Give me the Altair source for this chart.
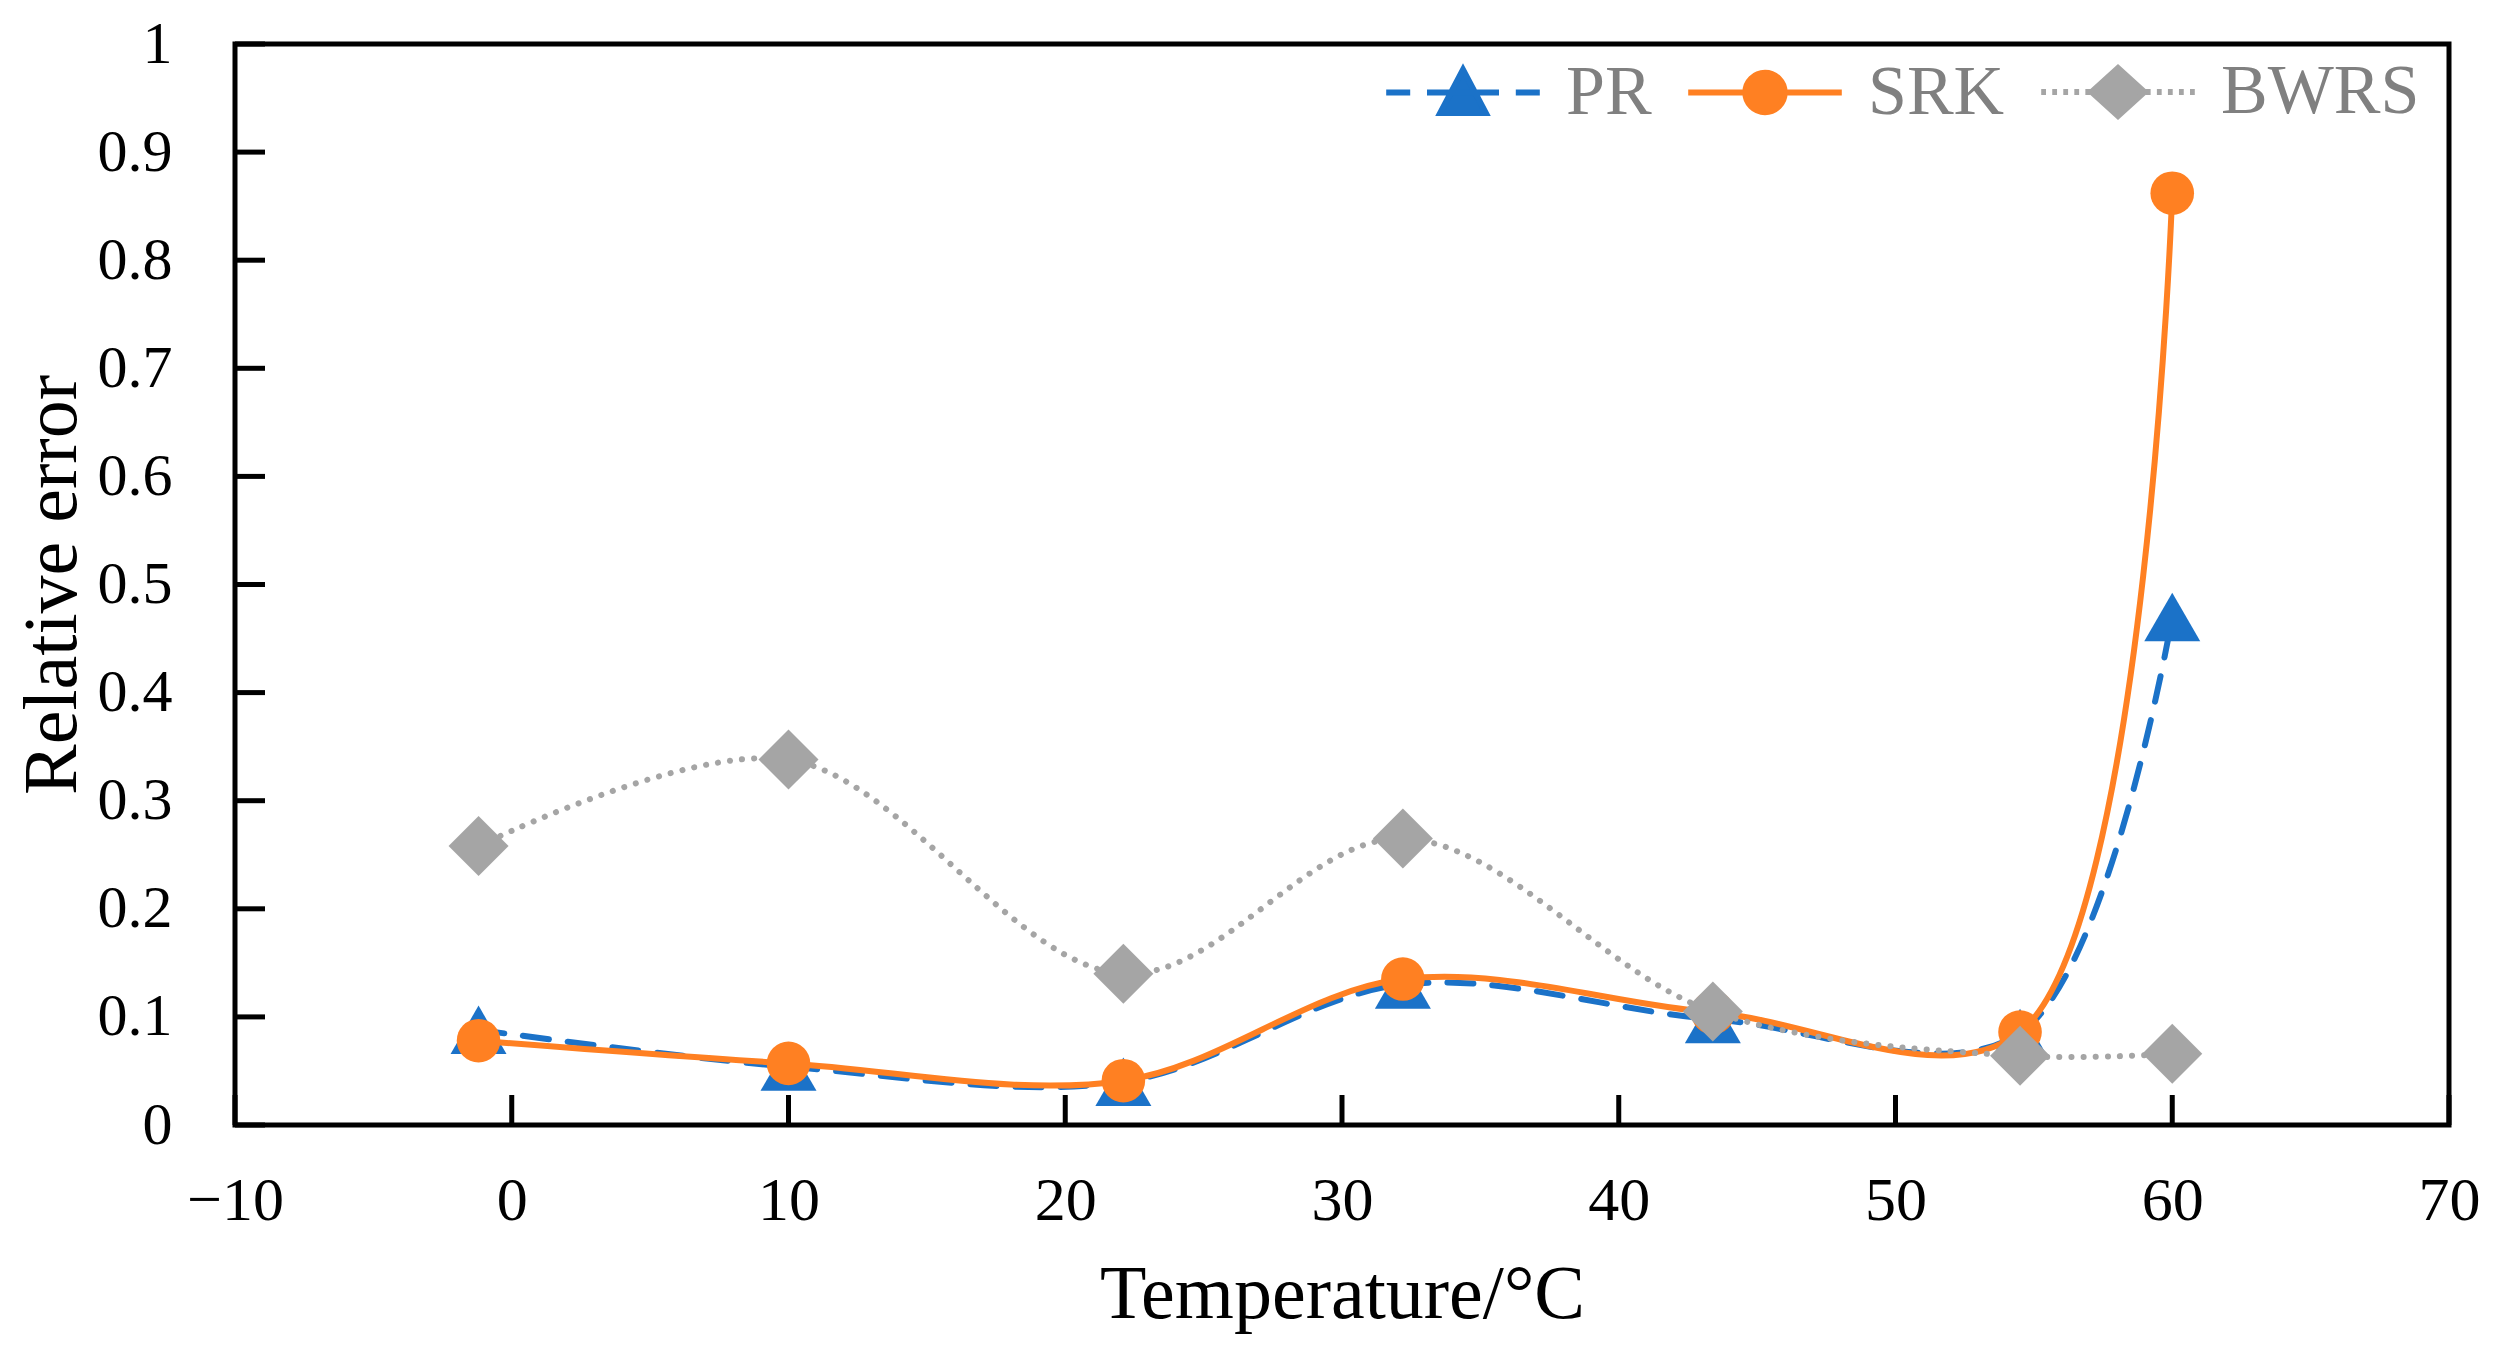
import altair as alt
import pandas as pd

# ---- data ----
temperature = [-1.2, 10.0, 22.1, 32.2, 43.4, 54.5, 60.0]
pr = [0.088, 0.054, 0.040, 0.130, 0.098, 0.085, 0.470]
srk = [0.078, 0.057, 0.041, 0.135, 0.104, 0.086, 0.862]
bwrs = [0.258, 0.338, 0.140, 0.265, 0.105, 0.064, 0.066]
series_names = ["PR", "SRK", "BWRS"]
colors = ["#1B72C8", "#FF8022", "#A5A5A5"]
x_ticks = [-10, 0, 10, 20, 30, 40, 50, 60, 70]
y_ticks = [0, 0.1, 0.2, 0.3, 0.4, 0.5, 0.6, 0.7, 0.8, 0.9, 1]

rows = []
for name, vals in zip(series_names, [pr, srk, bwrs]):
    for t, v in zip(temperature, vals):
        rows.append({"series": name, "t": t, "v": v})
df = pd.DataFrame(rows)

W, H = 2214, 1081
FONT = "Liberation Serif"

x_scale = alt.Scale(domain=[-10, 70], nice=False, zero=False)
y_scale = alt.Scale(domain=[0, 1], nice=False)
x_axis = alt.Axis(values=x_ticks, format="d", title="Temperature/\u00b0C",
                  domain=False, ticks=False, tickSize=0, grid=False,
                  labelFont=FONT, labelFontSize=62, labelColor="black",
                  labelBaseline="alphabetic", labelPadding=94, labelFlush=False,
                  titleFont=FONT, titleFontSize=76, titleFontWeight="normal",
                  titleColor="black", titleBaseline="alphabetic", titleY=192)
y_axis = alt.Axis(values=y_ticks, format=".1~f", title="Relative error",
                  domain=False, ticks=False, tickSize=0, grid=False,
                  labelFont=FONT, labelFontSize=60, labelColor="black",
                  labelPadding=63, labelFlush=False,
                  titleFont=FONT, titleFontSize=76, titleFontWeight="normal",
                  titleColor="black", titleBaseline="alphabetic",
                  titleX=-160, titleY=H / 2, titleAngle=270)

X = alt.X("t:Q", scale=x_scale, axis=x_axis)
Y = alt.Y("v:Q", scale=y_scale, axis=y_axis)

# inward tick marks
xt = alt.Chart(pd.DataFrame({"t": x_ticks})).mark_rule(color="black", strokeWidth=5).encode(
    x=X, y=alt.value(H), y2=alt.value(H - 30))
yt = alt.Chart(pd.DataFrame({"v": y_ticks})).mark_rule(color="black", strokeWidth=5).encode(
    y=Y, x=alt.value(0), x2=alt.value(30))

layers = [xt, yt]
styles = {
    "PR": dict(line=dict(strokeDash=[26, 19], strokeCap="round"), shape="triangle-up", size=3136),
    "SRK": dict(line=dict(), shape="circle", size=1900),
    "BWRS": dict(line=dict(strokeDash=[0.1, 12], strokeCap="round"), shape="diamond", size=3600),
}
for name, color in zip(series_names, colors):
    d = df[df.series == name]
    st = styles[name]
    layers.append(alt.Chart(d).mark_line(color=color, strokeWidth=6, interpolate="catmull-rom",
                                         **st["line"]).encode(x=X, y=Y))
    layers.append(alt.Chart(d).mark_point(filled=True, shape=st["shape"], size=st["size"],
                                          color=color, opacity=1, strokeWidth=0).encode(x=X, y=Y))

# legend symbols: line + marker as custom paths
pr_path = ("M-3.2,0L-2.2,0M-1.5,0L1.5,0M2.2,0L3.2,0"
           "M0,-0.95L0.95,0.85L-0.95,0.85Z")
srk_path = ("M-3.2,0L3.2,0"
            "M0.82,0C0.82,0.4529,0.4529,0.82,0,0.82C-0.4529,0.82,-0.82,0.4529,-0.82,0"
            "C-0.82,-0.4529,-0.4529,-0.82,0,-0.82C0.4529,-0.82,0.82,-0.4529,0.82,0Z")
bwrs_path = ("M-3.2,0L-3.0,0M-2.74,0L-2.54,0M-2.28,0L-2.08,0M-1.82,0L-1.62,0M-1.36,0L-1.16,0"
             "M1.16,0L1.36,0M1.62,0L1.82,0M2.08,0L2.28,0M2.54,0L2.74,0M3.0,0L3.2,0"
             "M-1.1,0L0,-1.0L1.1,0L0,1.0Z")
legend_paths = [pr_path, srk_path, bwrs_path]

leg = alt.Legend(orient="none", legendX=1193, legendY=13, direction="horizontal", title=None,
                 labelFont=FONT, labelFontSize=70, labelColor="#808080", labelLimit=0,
                 symbolSize=2304, symbolStrokeWidth=6, labelOffset=68, columnPadding=24,
                 padding=0)

legend_layer = alt.Chart(df).mark_point(filled=True, opacity=1).encode(
    fill=alt.Fill("series:N", scale=alt.Scale(domain=series_names, range=colors), legend=leg),
    stroke=alt.Stroke("series:N", scale=alt.Scale(domain=series_names, range=colors), legend=leg),
    shape=alt.Shape("series:N", scale=alt.Scale(domain=series_names, range=legend_paths), legend=leg),
).transform_filter("false")
layers.append(legend_layer)

chart = alt.layer(*layers).properties(
    width=W, height=H,
    autosize=alt.AutoSizeParams(type="none"),
    padding={"left": 227, "top": 36, "right": 40, "bottom": 212},
    background="white",
).configure_view(stroke="black", strokeWidth=5)

chart.save("out.html", embed_options={"renderer": "svg", "actions": False})
